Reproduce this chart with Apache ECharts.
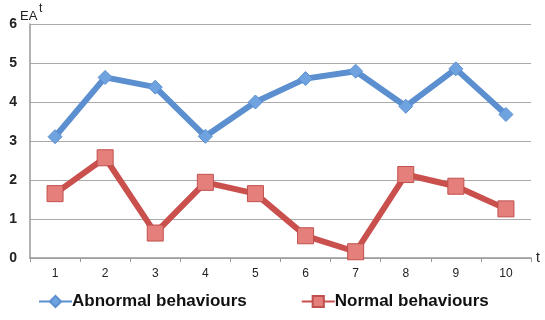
<!DOCTYPE html>
<html><head><meta charset="utf-8">
<script src="https://cdn.jsdelivr.net/npm/echarts@6/dist/echarts.min.js"></script>
<style>html,body{margin:0;padding:0;background:#fff}#c{width:545px;height:320px}</style>
</head><body><div id="c"></div>
<script>
const categories = ['1','2','3','4','5','6','7','8','9','10'];
const abnormal = [3.11, 4.63, 4.38, 3.12, 4.0, 4.6, 4.79, 3.89, 4.85, 3.68];
const normal = [1.65, 2.57, 0.64, 1.94, 1.65, 0.57, 0.16, 2.14, 1.84, 1.26];
const yTicks = [0, 1, 2, 3, 4, 5, 6];

const chart = echarts.init(document.getElementById('c'));
chart.setOption({
  animation: false,
  backgroundColor: '#fff',
  textStyle: { fontFamily: 'Open Sans, Liberation Sans, sans-serif' },
  graphic: [
    { type: 'text', left: 20, top: 10, style: { text: 'EA', fontSize: 13, fill: '#222', fontFamily: 'Liberation Sans' } },
    { type: 'text', left: 39, top: 3, style: { text: 't', fontSize: 12, fill: '#222', fontFamily: 'Liberation Sans' } },
    { type: 'text', left: 536, top: 251, style: { text: 't', fontSize: 14, fill: '#222', fontFamily: 'Liberation Sans' } }
  ],
  legend: {
    bottom: 5, left: 33,
    itemGap: 54,
    itemWidth: 33, itemHeight: 14,
    textStyle: { fontSize: 17, fontWeight: 'bold', color: '#111', fontFamily: 'Liberation Sans', padding: [0,0,0,-5] },
    data: ['Abnormal behaviours', 'Normal behaviours']
  },
  grid: { left: 30, right: 14, top: 24, bottom: 62 },
  xAxis: {
    type: 'category', data: categories, boundaryGap: true,
    axisLine: { lineStyle: { color: '#999', width: 1.5 } },
    axisTick: { show: true, length: 4, lineStyle: { color: '#999' } },
    axisLabel: { color: '#222', fontSize: 12, margin: 10, fontFamily: 'Liberation Sans' }
  },
  yAxis: {
    type: 'value', min: 0, max: 6, interval: 1,
    axisLine: { show: true, lineStyle: { color: '#999', width: 1.5 } },
    axisTick: { show: false },
    axisLabel: { color: '#222', fontSize: 14, fontWeight: 'bold', margin: 13, fontFamily: 'Liberation Sans' },
    splitLine: { lineStyle: { color: '#aaa', width: 1.2 } }
  },
  series: [
    {
      name: 'Abnormal behaviours', type: 'line', data: abnormal,
      symbol: 'diamond', symbolSize: 14,
      lineStyle: { color: '#5B8FD0', width: 6 },
      itemStyle: { color: '#6FA3E0', borderColor: '#5B8FD0', borderWidth: 1 }
    },
    {
      name: 'Normal behaviours', type: 'line', data: normal,
      symbol: 'rect', symbolSize: 16,
      lineStyle: { color: '#C9504D', width: 6 },
      itemStyle: { color: '#E57F7B', borderColor: '#C0504D', borderWidth: 1 }
    }
  ]
});
</script></body></html>
